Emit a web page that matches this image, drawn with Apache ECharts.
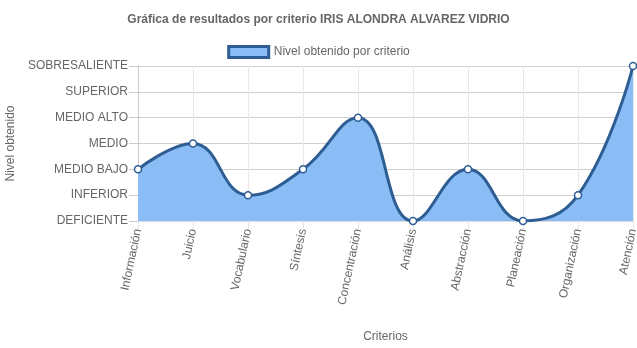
<!DOCTYPE html>
<html><head><meta charset="utf-8">
<script src="https://cdn.jsdelivr.net/npm/echarts@6/dist/echarts.min.js"></script>
<style>html,body{margin:0;padding:0;background:#fff}#c{width:637px;height:348px}</style>
</head><body><div id="c"></div>
<script>
const title = 'Gráfica de resultados por criterio IRIS ALONDRA ALVAREZ VIDRIO';
const seriesName = 'Nivel obtenido por criterio';
const categories = ['Información','Juicio','Vocabulario','Síntesis','Concentración','Análisis','Abstracción','Planeación','Organización','Atención'];
const levels = ['DEFICIENTE','INFERIOR','MEDIO BAJO','MEDIO','MEDIO ALTO','SUPERIOR','SOBRESALIENTE'];
const values = [2,3,1,2,4,0,2,0,1,6];
const xName = 'Criterios';
const yName = 'Nivel obtenido';

const chart = echarts.init(document.getElementById('c'));
const font = 'Liberation Sans, Arial, sans-serif';
chart.setOption({
  animation:false,
  title:{text:title,left:'center',top:9,textStyle:{fontFamily:font,fontSize:12,fontWeight:'bold',color:'#666'}},
  legend:{top:40,left:'center',itemWidth:40,itemHeight:11,itemGap:6,
    textStyle:{fontFamily:font,fontSize:12,color:'#666'},
    data:[{name:seriesName,icon:'rect',itemStyle:{color:'#8abcf5',borderColor:'#2e5d93',borderWidth:3}}]},
  grid:{left:138,right:4,top:66,bottom:127,containLabel:false,outerBoundsMode:'none'},
  xAxis:{type:'category',data:categories,boundaryGap:false,
    name:xName,nameLocation:'middle',nameGap:110,nameTextStyle:{fontFamily:font,fontSize:12,color:'#666'},
    axisLine:{lineStyle:{color:'#ddd'}},
    axisTick:{show:true,alignWithLabel:true,length:8,lineStyle:{color:'#e6e6e6'}},
    axisLabel:{rotate:78,interval:0,fontFamily:font,fontSize:12,color:'#666',margin:8},
    splitLine:{show:true,lineStyle:{color:'#e8e8e8'}}},
  yAxis:{type:'value',min:0,max:6,interval:1,
    name:yName,nameLocation:'middle',nameGap:118,nameTextStyle:{fontFamily:font,fontSize:12,color:'#666'},
    axisLine:{show:true,lineStyle:{color:'#ccc'}},
    axisTick:{show:true,length:9,lineStyle:{color:'#ccc'}},
    axisLabel:{fontFamily:font,fontSize:12,color:'#666',margin:10,formatter:v=>levels[v]},
    splitLine:{show:true,lineStyle:{color:'#cfcfcf'}}},
  series:[{name:seriesName,type:'line',data:values,smooth:0.45,
    symbol:'circle',symbolSize:7,showAllSymbol:true,
    itemStyle:{color:'#fff',borderColor:'#2e5d93',borderWidth:1.5},
    lineStyle:{color:'#2e5d93',width:3},
    areaStyle:{color:'#8abcf5',opacity:1}}]
});
</script></body></html>
